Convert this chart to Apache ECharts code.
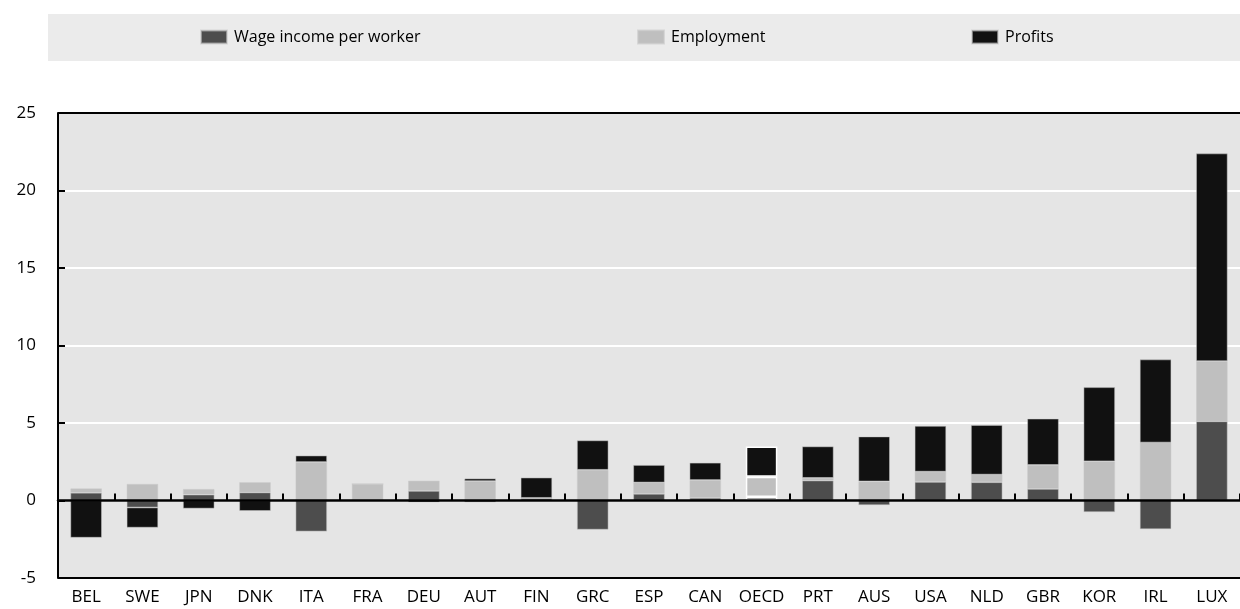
<!DOCTYPE html>
<html>
<head>
<meta charset="utf-8">
<script src="https://cdn.jsdelivr.net/npm/echarts@6/dist/echarts.min.js"></script>
<style>
html,body{margin:0;padding:0;background:#fff;}
#main{width:1240px;height:609px;}
</style>
</head>
<body>
<div id="main"></div>
<script>
const categories = ['BEL','SWE','JPN','DNK','ITA','FRA','DEU','AUT','FIN','GRC','ESP','CAN','OECD','PRT','AUS','USA','NLD','GBR','KOR','IRL','LUX'];
const wageIncome = [0.5, -0.45, 0.38, 0.52, -2.0, 0, 0.62, -0.12, 0.15, -1.88, 0.43, 0.17, 0.22, 1.29, -0.3, 1.2, 1.18, 0.75, -0.75, -1.85, 5.11];
const employment = [0.28, 1.07, 0.36, 0.66, 2.48, 1.07, 0.66, 1.25, 0.02, 1.98, 0.73, 1.15, 1.31, 0.17, 1.23, 0.66, 0.49, 1.54, 2.53, 3.74, 3.88];
const profits = [-2.4, -1.3, -0.52, -0.67, 0.42, 0, -0.12, 0.17, 1.31, 1.9, 1.13, 1.12, 1.96, 2.03, 2.9, 2.95, 3.2, 2.99, 4.78, 5.36, 13.4];
const seriesNames = ['Wage income per worker', 'Employment', 'Profits'];
const colors = ['#4d4d4d', '#bfbfbf', '#111111'];

const FONT = 'Open Sans';
const chart = echarts.init(document.getElementById('main'), null, {renderer: 'canvas'});

function mk(vals) {
  return vals.map((v, i) => categories[i] === 'OECD'
    ? {value: v, itemStyle: {borderColor: '#ffffff', borderWidth: 1.5}}
    : v);
}

const legendLefts = [195, 632, 966];

chart.setOption({
  animation: false,
  textStyle: {fontFamily: FONT},
  graphic: [{
    type: 'rect', z: -10,
    shape: {x: 48, y: 14, width: 1192, height: 47},
    style: {fill: '#ebebeb'}
  }],
  legend: seriesNames.map((n, i) => ({
    data: [n],
    left: legendLefts[i], top: 24,
    itemWidth: 26, itemHeight: 13, itemGap: 0,
    textStyle: {fontFamily: FONT, fontSize: 16, color: '#000', padding: [0, 0, 0, 2]},
    icon: 'rect'
  })),
  grid: {left: 58, right: -8, top: 113, bottom: 31, show: true, backgroundColor: '#e5e5e5', borderWidth: 0},
  xAxis: [{
    type: 'category', data: categories, z: 10,
    axisLine: {onZero: true, lineStyle: {color: '#000', width: 2.5}},
    axisTick: {show: true, inside: true, length: 7, lineStyle: {color: '#000', width: 2}},
    axisLabel: {show: false}
  }, {
    type: 'category', data: categories, position: 'bottom',
    axisLine: {show: false, onZero: false},
    axisTick: {show: false},
    axisLabel: {show: true, interval: 0, margin: 11, fontFamily: FONT, fontSize: 17, color: '#000'}
  }],
  yAxis: {
    type: 'value', min: -5, max: 25, interval: 5,
    axisLine: {show: true, lineStyle: {color: '#000', width: 2}},
    axisTick: {show: true, inside: true, length: 7, lineStyle: {color: '#000', width: 2}},
    axisLabel: {margin: 22, fontFamily: FONT, fontSize: 17, color: '#000'},
    splitLine: {show: true, lineStyle: {color: ['#000', '#fff', '#fff', '#fff', '#fff', '#fff', '#000'], width: 2}}
  },
  series: [wageIncome, employment, profits].map((vals, i) => ({
    name: seriesNames[i],
    type: 'bar', stack: 'total', xAxisIndex: 0,
    barWidth: '56%',
    itemStyle: {color: colors[i], borderColor: 'rgba(200,200,200,0.6)', borderWidth: 0.8},
    data: mk(vals)
  }))
});
</script>
</body>
</html>
